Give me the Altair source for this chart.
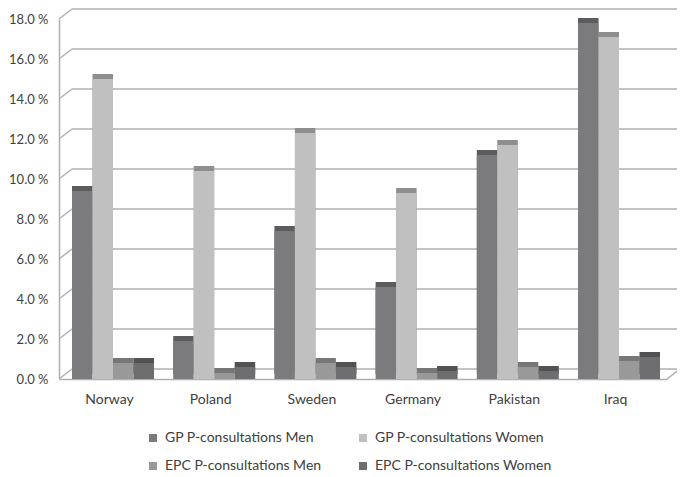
import altair as alt
import pandas as pd

countries = ["Norway", "Poland", "Sweden", "Germany", "Pakistan", "Iraq"]
series = [
    "GP P-consultations Men",
    "GP P-consultations Women",
    "EPC P-consultations Men",
    "EPC P-consultations Women",
]
gp_men = [9.4, 1.9, 7.4, 4.6, 11.2, 17.8]
gp_women = [15.0, 10.4, 12.3, 9.3, 11.7, 17.1]
epc_men = [0.8, 0.3, 0.8, 0.3, 0.6, 0.9]
epc_women = [0.8, 0.6, 0.6, 0.4, 0.4, 1.1]
y_ticks = [0, 2, 4, 6, 8, 10, 12, 14, 16, 18]

front_colors = ["#7b7b7d", "#c0c0c0", "#999999", "#6e6e70"]
side_colors = ["#5c5c5e", "#8e8e8e", "#777777", "#525254"]

rows = []
for s, vals in zip(series, [gp_men, gp_women, epc_men, epc_women]):
    for c, v in zip(countries, vals):
        rows.append({"country": c, "series": s, "value": v})
df = pd.DataFrame(rows)
ticks_df = pd.DataFrame({"v": y_ticks})
floor_df = pd.DataFrame({"v": [0]})

W, H = 608, 360
DX, DY = 13, 10
FONT = "Lato"
TXT = "#404040"
GRID = "#b0b0b0"

x_enc = alt.X(
    "country:N",
    sort=countries,
    scale=alt.Scale(paddingInner=0.19, paddingOuter=0.099, align=0.65),
    axis=alt.Axis(
        title=None, ticks=False, domainColor=GRID, domainWidth=1.5,
        labelFont=FONT, labelFontSize=14, labelColor=TXT, labelPadding=13,
        labelOffset=-3.5, labelAngle=0,
    ),
)
y_scale = alt.Scale(domain=[0, 18], nice=False, zero=True)
y_axis = alt.Axis(
    title=None, values=y_ticks, tickCount=10, ticks=False, grid=False,
    domainColor=GRID, domainWidth=1.5,
    labelExpr="format(datum.value, '.1f') + ' %'",
    labelFont=FONT, labelFontSize=13, labelColor=TXT, labelPadding=11,
    labelOverlap=False, labelFlush=False, labelBound=False,
)
xoff = alt.XOffset("series:N", sort=series, scale=alt.Scale(paddingInner=0, paddingOuter=0))

grid = alt.Chart(ticks_df).mark_rule(color=GRID, strokeWidth=1.5, yOffset=-DY).encode(
    y=alt.Y("v:Q", scale=y_scale, axis=y_axis),
    x=alt.value(DX),
    x2=alt.value(W + DX),
)

diag = alt.Chart(ticks_df).mark_rule(color=GRID, strokeWidth=1.5, y2Offset=-DY).encode(
    y=alt.Y("v:Q", scale=y_scale, axis=y_axis),
    y2=alt.Y2("v"),
    x=alt.value(0),
    x2=alt.value(DX),
)

floor_right = alt.Chart(floor_df).mark_rule(color=GRID, strokeWidth=1.5, y2Offset=-DY).encode(
    y=alt.Y("v:Q", scale=y_scale, axis=y_axis),
    y2=alt.Y2("v"),
    x=alt.value(W),
    x2=alt.value(W + DX),
)

side = alt.Chart(df).mark_bar(xOffset=5, yOffset=-5).encode(
    x=x_enc,
    xOffset=xoff,
    y=alt.Y("value:Q", scale=y_scale, axis=y_axis),
    color=alt.Color("series:N", sort=series,
                    scale=alt.Scale(domain=series, range=side_colors), legend=None),
)

front = alt.Chart(df).mark_bar().encode(
    x=x_enc,
    xOffset=xoff,
    y=alt.Y("value:Q", scale=y_scale, axis=y_axis),
    color=alt.Color(
        "series:N", sort=series,
        scale=alt.Scale(domain=series, range=front_colors),
        legend=alt.Legend(
            title=None, orient="none", legendX=87, legendY=412, columns=2,
            direction="horizontal",
            columnPadding=34, rowPadding=14, symbolType="square", symbolSize=64,
            symbolStrokeWidth=0, labelFont=FONT, labelFontSize=14, labelColor=TXT,
            labelOffset=5, labelLimit=0,
        ),
    ),
)

chart = (
    alt.layer(grid, diag, floor_right, side, front)
    .resolve_scale(color="independent")
    .properties(
        width=W, height=H,
        autosize=alt.AutoSizeParams(type="none"),
        padding={"left": 51, "top": 11, "right": 10, "bottom": 98},
        background="white",
    )
    .configure_view(stroke=None)
    .configure_axis(labelOverlap=False)
)

chart.save("out.html", embed_options={"renderer": "svg", "actions": False})
